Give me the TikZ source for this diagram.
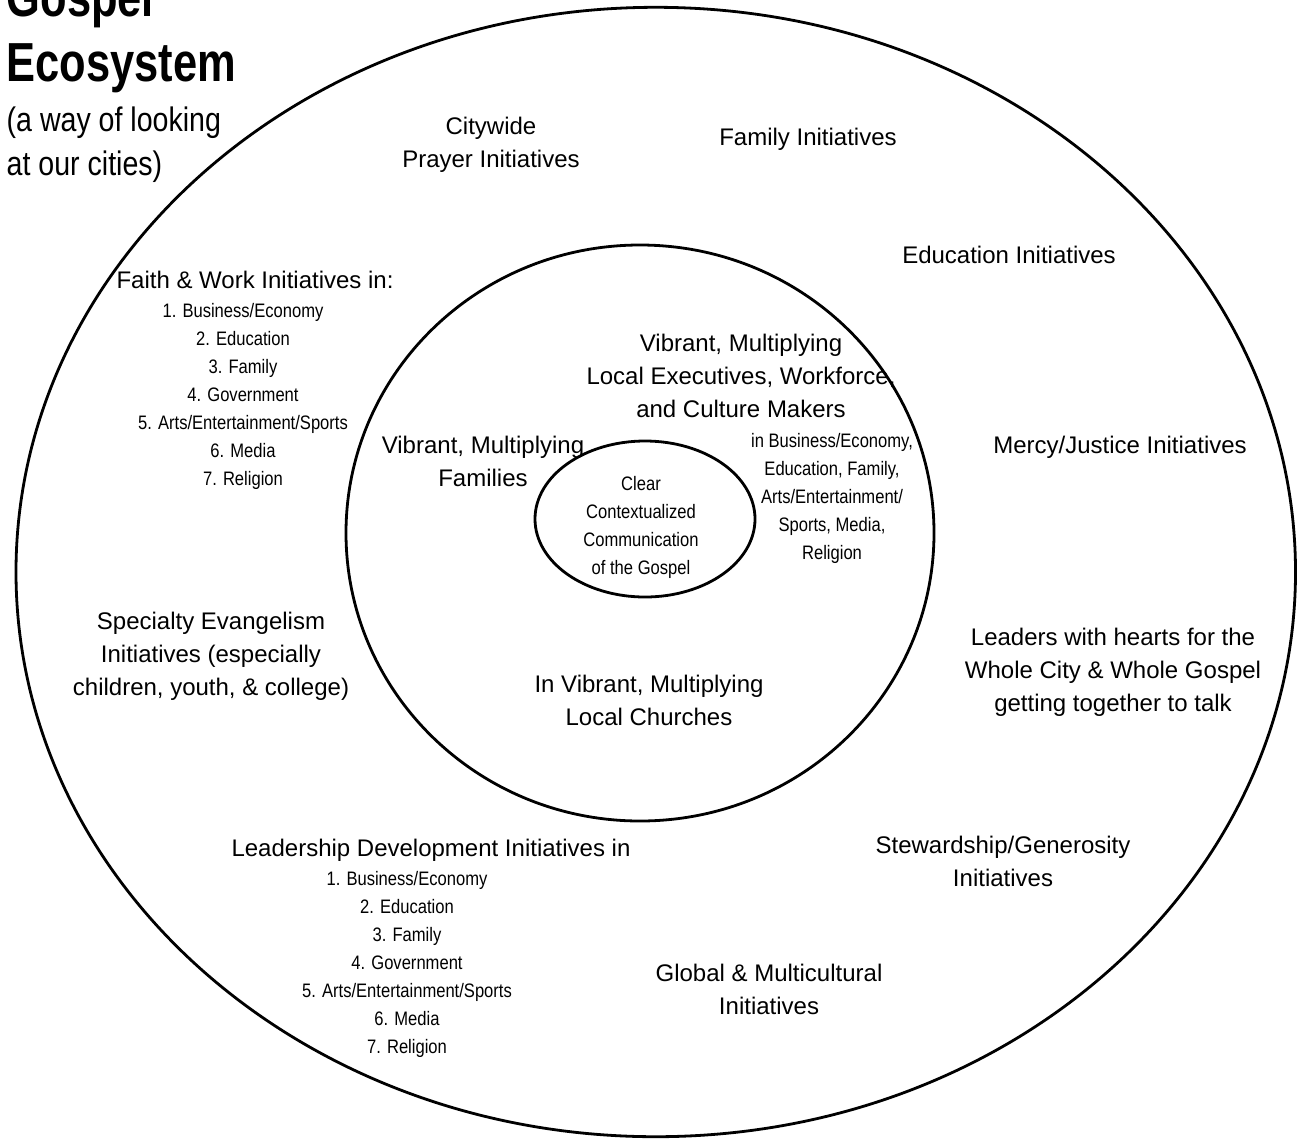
\documentclass[tikz,border=0pt]{standalone}
\usepackage{fontspec}
\setmainfont{Liberation Sans}
\newfontfamily\narrowsf{Liberation Sans}[FakeStretch=0.85]
\newfontfamily\titlesf{Liberation Sans}[FakeStretch=0.79]
\newfontfamily\subsf{Liberation Sans}[FakeStretch=0.84]
\begin{document}
\begin{tikzpicture}[x=1pt,y=-1pt,
  ring/.style={draw=black, line width=2.8pt},
  maintext/.style={font=\fontsize{24}{33}\selectfont, align=center, inner sep=0pt, anchor=north},
  smalltext/.style={font=\narrowsf\fontsize{19.5}{28}\selectfont, align=center, inner sep=0pt, anchor=north},
  titletext/.style={font=\titlesf\bfseries\fontsize{55}{65}\selectfont, align=left, inner sep=0pt, anchor=north west},
  subtext/.style={font=\subsf\fontsize{34}{44}\selectfont, align=left, inner sep=0pt, anchor=north west}]
\useasboundingbox (0,0) rectangle (1297,1138);
% rings
\draw[ring] (655.75,572) ellipse [x radius=639.75, y radius=564.7];
\draw[ring] (640,533) ellipse [x radius=294, y radius=288];
\draw[ring] (645,519) ellipse [x radius=110, y radius=78];
% title
\node[titletext] (title) at (6.5,-23.6) {Gospel\\Ecosystem};
\node[subtext] (subtitle) at (6.5,106.2) {(a way of looking\\at our cities)};
% outer ring texts
\node[maintext] (prayer) at (491,116.7) {Citywide\\Prayer Initiatives};
\node[maintext] (family) at (808,127.7) {Family Initiatives};
\node[maintext] (education) at (1009,245.7) {Education Initiatives};
\node[maintext] (faithwork) at (255,270.7) {Faith \& Work Initiatives in:};
\node[smalltext] (faithlist) at (243,303) {1. Business/Economy\\2. Education\\3. Family\\4. Government\\5. Arts/Entertainment/Sports\\6. Media\\7. Religion};
\node[maintext] (mercy) at (1120,435.7) {Mercy/Justice Initiatives};
\node[maintext] (specialty) at (211,611.7) {Specialty Evangelism\\Initiatives (especially\\children, youth, \& college)};
\node[maintext] (leaders) at (1113,627.7) {Leaders with hearts for the\\Whole City \& Whole Gospel\\getting together to talk};
\node[maintext] (leadership) at (431,838.7) {Leadership Development Initiatives in};
\node[smalltext] (leadlist) at (407,871) {1. Business/Economy\\2. Education\\3. Family\\4. Government\\5. Arts/Entertainment/Sports\\6. Media\\7. Religion};
\node[maintext] (stewardship) at (1003,835.7) {Stewardship/Generosity\\Initiatives};
\node[maintext] (global) at (769,963.7) {Global \& Multicultural\\Initiatives};
% middle ring texts
\node[maintext] (executives) at (741,333.7) {Vibrant, Multiplying\\Local Executives, Workforce,\\and Culture Makers};
\node[smalltext] (spheres) at (832,433) {in Business/Economy,\\Education, Family,\\Arts/Entertainment/\\Sports, Media,\\Religion};
\node[maintext] (families) at (483,435.7) {Vibrant, Multiplying\\Families};
\node[maintext] (churches) at (649,674.7) {In Vibrant, Multiplying\\Local Churches};
% inner ring text
\node[smalltext] (gospel) at (641,476) {Clear\\Contextualized\\Communication\\of the Gospel};
\end{tikzpicture}
\end{document}
